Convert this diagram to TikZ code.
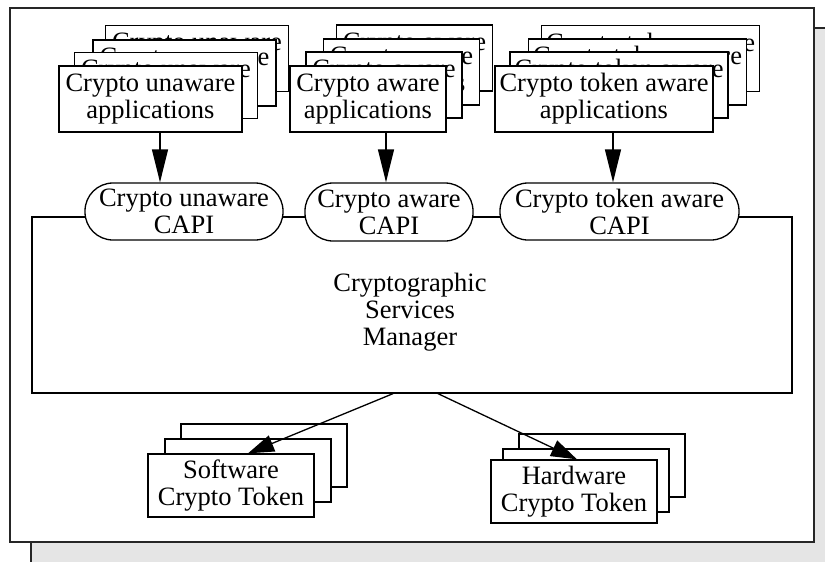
\documentclass[tikz,border=0pt]{standalone}
\usepackage{fontspec}
\setmainfont{Liberation Serif}
\usetikzlibrary{arrows.meta}
\definecolor{shadegray}{gray}{0.9}
\definecolor{framegray}{gray}{0.15}
\begin{document}
\begin{tikzpicture}[x=1pt,y=-1pt,
  txt/.style={font=\fontsize{26.5}{27}\selectfont, align=center},
  box/.style={draw, fill=white, line width=1.3pt, inner sep=0pt, txt},
  capsule/.style={box, rounded corners=28pt},
  arr/.style={line width=1.3pt, -{Triangle[length=33pt,width=16pt]}},
  arrsmall/.style={line width=1.3pt, -{Triangle[length=26pt,width=17pt]}}]
\useasboundingbox (0,0) rectangle (825,562);
% background panels
\fill[shadegray, draw=framegray, line width=1.3pt] (31,28) rectangle (840,580);
\fill[white, draw=framegray, line width=1.6pt] (10,8) rectangle (814,542);
% manager box
\node[draw, line width=1.3pt, minimum width=760pt, minimum height=176pt, inner sep=0pt] (csm) at (412,305) {};
\node[txt] (csmtext) at (410,312) {Cryptographic\\Services\\Manager};
% CAPI capsules
\node[capsule, minimum width=198pt, minimum height=57pt] (c1) at (184,211.5) {Crypto unaware\\CAPI};
\node[capsule, minimum width=168pt, minimum height=58pt] (c2) at (389,212) {Crypto aware\\CAPI};
\node[capsule, minimum width=239pt, minimum height=57pt] (c3) at (619.5,211.5) {Crypto token aware\\CAPI};
% crypto unaware applications
\begin{scope}[every node/.style={box, minimum width=183pt, minimum height=66pt}]
\node (u4) at (197,58.5) {Crypto unaware\\applications};
\node (u3) at (184.5,73) {Crypto unaware\\applications};
\node (u2) at (166,85.5) {Crypto unaware\\applications};
\node (u1) at (150.5,99) {Crypto unaware\\applications};
\end{scope}
% crypto aware applications
\begin{scope}[every node/.style={box, minimum width=156pt, minimum height=66pt}]
\node (a4) at (414.5,58) {Crypto aware\\applications};
\node (a3) at (401.5,72) {Crypto aware\\applications};
\node (a2) at (384,85) {Crypto aware\\applications};
\node (a1) at (368,99) {Crypto aware\\applications};
\end{scope}
% crypto token aware applications
\begin{scope}[every node/.style={box, minimum width=218pt, minimum height=66pt}]
\node (t4) at (650.5,58.5) {Crypto token aware\\applications};
\node (t3) at (637.5,72) {Crypto token aware\\applications};
\node (t2) at (619,85) {Crypto token aware\\applications};
\node (t1) at (604,99) {Crypto token aware\\applications};
\end{scope}
% tokens
\begin{scope}[every node/.style={box, minimum width=166pt, minimum height=63pt}]
\node (s3) at (264,455.5) {};
\node (s2) at (248,470.5) {};
\node (s1) at (231,485.5) {Software\\Crypto Token};
\node (h3) at (602,465.5) {};
\node (h2) at (586,480.5) {};
\node (h1) at (574,491.5) {Hardware\\Crypto Token};
\end{scope}
% arrows
\coordinate (ux) at (160,0);
\coordinate (ax) at (386,0);
\coordinate (tx) at (613,0);
\draw[arr] (u1.south -| ux) -- (c1.north -| ux);
\draw[arr] (a1.south -| ax) -- (c2.north -| ax);
\draw[arr] (t1.south -| tx) -- (c3.north -| tx);
\draw[arrsmall] ([xshift=-19pt]csm.south) -- ([xshift=17pt]s1.north);
\draw[arrsmall] ([xshift=26pt]csm.south) -- ([xshift=3pt]h1.north);
\end{tikzpicture}
\end{document}
